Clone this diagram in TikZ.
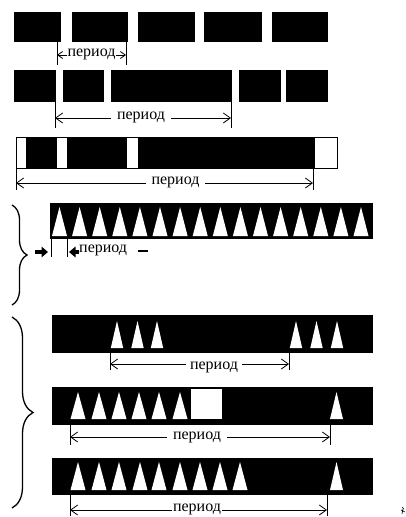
\documentclass[tikz,border=0pt]{standalone}
\usepackage{fontspec}
\setmainfont{Liberation Serif}
\usetikzlibrary{arrows.meta,decorations.pathreplacing}
\newcommand\mytri[4]{\fill[white] ({#1-#4},#3) -- (#1,#2) -- ({#1+#4},#3) -- cycle;}
\begin{document}
\begin{tikzpicture}[x=1pt,y=-1pt,
  tick/.style={line width=0.8pt},
  dim/.style={line width=0.8pt,{Straight Barb[length=7pt,width=10pt]}-{Straight Barb[length=7pt,width=10pt]}},
  dimsmall/.style={line width=0.8pt,{Straight Barb[length=5pt,width=7pt]}-{Straight Barb[length=5pt,width=7pt]}},
  lab/.style={fill=white,inner sep=1.5pt,font=\fontsize{16}{16}\selectfont},
  heavy/.style={line width=3.2pt,-{Triangle[length=6.5pt,width=10.5pt]}},
  bracestyle/.style={line width=1.3pt,decorate,decoration={brace,amplitude=#1}}
]
\useasboundingbox[fill=white] (0,0) rectangle (406,517);

% ---------- bar 1
\fill[black] (14,12) rectangle (328,42);
\foreach \a/\b in {61/72,128/138,195/204,262/272} \fill[white] (\a,12) rectangle (\b,42);
\coordinate (t1a) at (57,42); \coordinate (t1ae) at (57,65);
\coordinate (t1b) at (126,42); \coordinate (t1be) at (126,65);
\draw[tick] (t1a) -- (t1ae);
\draw[tick] (t1b) -- (t1be);
\coordinate (d1a) at (57,55); \coordinate (d1b) at (126,55);
\draw[dimsmall] (d1a) -- (d1b);
\node[lab,inner sep=0.5pt] (p1) at (91.5,54) {период};

% ---------- bar 2
\fill[black] (14,70) rectangle (328,102);
\foreach \a/\b in {56/63,104/111,232/239,281/286} \fill[white] (\a,70) rectangle (\b,102);
\coordinate (t2a) at (55,102); \coordinate (t2ae) at (55,128);
\coordinate (t2b) at (231,102); \coordinate (t2be) at (231,128);
\draw[tick] (t2a) -- (t2ae);
\draw[tick] (t2b) -- (t2be);
\coordinate (d2a) at (55,118); \coordinate (d2b) at (231,118);
\draw[dim] (d2a) -- (d2b);
\node[lab,inner xsep=6pt] (p2) at (141,117) {период};

% ---------- bar 3
\draw[line width=0.6pt,fill=white] (16,137) rectangle (337,168);
\foreach \a/\b in {26/57,67/127,138/315} \fill[black] (\a,137) rectangle (\b,168);
\coordinate (t3a) at (16,168); \coordinate (t3ae) at (16,190);
\coordinate (t3b) at (313,168); \coordinate (t3be) at (313,190);
\draw[tick] (t3a) -- (t3ae);
\draw[tick] (t3b) -- (t3be);
\coordinate (d3a) at (16,183); \coordinate (d3b) at (313,183);
\draw[dim] (d3a) -- (d3b);
\node[lab,inner xsep=6pt] (p3) at (175.5,182) {период};

% ---------- bar 4
\fill[black] (50,203) rectangle (373,239);
\foreach \i in {0,...,15} {\mytri{59.5+20.1*\i}{207}{236}{7.5}}
\coordinate (t4a) at (51,239); \coordinate (t4ae) at (51,257);
\coordinate (t4b) at (67.5,239); \coordinate (t4be) at (67.5,257);
\draw[tick] (t4a) -- (t4ae);
\draw[tick] (t4b) -- (t4be);
\coordinate (h1s) at (35,252); \coordinate (h1e) at (48,252);
\draw[heavy] (h1s) -- (h1e);
\coordinate (h2s) at (82,252); \coordinate (h2e) at (69,252);
\draw[heavy] (h2s) -- (h2e);
\node[lab,inner sep=0pt,anchor=west] (p4) at (79,250) {период};
\coordinate (m4a) at (138,251); \coordinate (m4b) at (148,251);
\draw[line width=2.6pt] (m4a) -- (m4b);

% brace 1
\coordinate (br1a) at (12,205); \coordinate (br1b) at (12,305);
\draw[bracestyle=15pt] (br1a) -- (br1b);

% ---------- bar 5
\fill[black] (52,315) rectangle (373,353);
\foreach \c in {117,137.5,157,296,316.5,337} {\mytri{\c}{321}{348}{6.2}}
\coordinate (t5a) at (110,353); \coordinate (t5ae) at (110,370);
\coordinate (t5b) at (289,353); \coordinate (t5be) at (289,370);
\draw[tick] (t5a) -- (t5ae);
\draw[tick] (t5b) -- (t5be);
\coordinate (d5a) at (110,364); \coordinate (d5b) at (289,364);
\draw[dim] (d5a) -- (d5b);
\node[lab,inner xsep=4pt] (p5) at (214,367) {период};

% ---------- bar 6
\fill[black] (52,387) rectangle (373,425);
\foreach \c in {78,99,119,139,159,180} {\mytri{\c}{392}{419}{7.5}}
\fill[white] (191,389) rectangle (222,419);
\mytri{336.5}{392}{419}{6.5}
\coordinate (t6a) at (70,425); \coordinate (t6ae) at (70,445);
\coordinate (t6b) at (330,425); \coordinate (t6be) at (330,445);
\draw[tick] (t6a) -- (t6ae);
\draw[tick] (t6b) -- (t6be);
\coordinate (d6a) at (70,437); \coordinate (d6b) at (330,437);
\draw[dim] (d6a) -- (d6b);
\node[lab,inner xsep=6pt] (p6) at (197,437) {период};

% ---------- bar 7
\fill[black] (52,458) rectangle (373,495);
\foreach \c in {78,99,119,140,159,180,200,220,240} {\mytri{\c}{462}{490}{7.5}}
\mytri{336.5}{462}{490}{6.5}
\coordinate (t7a) at (70,495); \coordinate (t7ae) at (70,516);
\coordinate (t7b) at (327,495); \coordinate (t7be) at (327,516);
\draw[tick] (t7a) -- (t7ae);
\draw[tick] (t7b) -- (t7be);
\coordinate (d7a) at (70,510); \coordinate (d7b) at (327,510);
\draw[dim] (d7a) -- (d7b);
\node[lab,inner xsep=1pt] (p7) at (197,509) {период};

% brace 2
\coordinate (br2a) at (12,317); \coordinate (br2b) at (12,508);
\draw[bracestyle=21pt] (br2a) -- (br2b);

% stray mark bottom right
\draw[line width=0.6pt] (402,507) -- (404,509) (401,510) -- (405,512) (403,509) -- (402,514);
\end{tikzpicture}
\end{document}
